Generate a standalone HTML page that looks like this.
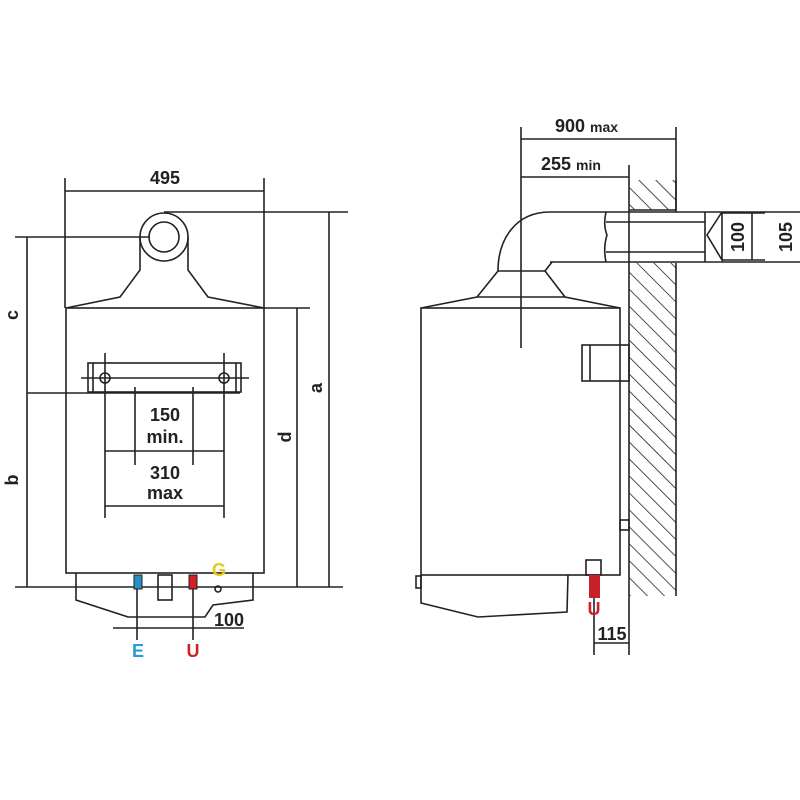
<!DOCTYPE html>
<html><head><style>
html,body{margin:0;padding:0;background:#fff;}
svg{display:block;}
text{font-family:"Liberation Sans",Arial,sans-serif;font-weight:bold;fill:#222;}
</style></head><body>
<svg width="800" height="800" viewBox="0 0 800 800" xmlns="http://www.w3.org/2000/svg">
<defs>
<pattern id="h" width="12" height="12" patternUnits="userSpaceOnUse" patternTransform="rotate(-45)">
<line x1="0" y1="0" x2="0" y2="12" stroke="#222" stroke-width="1.6"/>
</pattern>
</defs>
<g fill="none" stroke="#222" stroke-width="1.6">
<!-- LEFT VIEW -->
<line x1="65" y1="178" x2="65" y2="308"/>
<line x1="264" y1="178" x2="264" y2="308"/>
<line x1="65" y1="191" x2="264" y2="191"/>
<circle cx="164" cy="237" r="24"/>
<circle cx="164" cy="237" r="15"/>
<path d="M140 237 V270 L120 297 L66 308 M188 237 V270 L208 297 L264 308"/>
<line x1="164" y1="212" x2="348" y2="212"/>
<line x1="15" y1="237" x2="150" y2="237"/>
<rect x="66" y="308" width="198" height="265"/>
<line x1="264" y1="308" x2="310" y2="308"/>
<line x1="329" y1="212" x2="329" y2="587"/>
<line x1="297" y1="308" x2="297" y2="587"/>
<line x1="27" y1="237" x2="27" y2="587"/>
<line x1="27" y1="393" x2="240" y2="393"/>
<line x1="15" y1="587" x2="343" y2="587"/>
<rect x="88" y="363" width="153" height="29"/>
<line x1="93" y1="363" x2="93" y2="392"/>
<line x1="236" y1="363" x2="236" y2="392"/>
<circle cx="105" cy="378" r="5"/>
<circle cx="224" cy="378" r="5"/>
<line x1="81" y1="378" x2="249" y2="378"/>
<line x1="105" y1="353" x2="105" y2="518"/>
<line x1="224" y1="353" x2="224" y2="518"/>
<line x1="135" y1="387" x2="135" y2="465"/>
<line x1="193" y1="387" x2="193" y2="465"/>
<line x1="105" y1="451" x2="224" y2="451"/>
<line x1="105" y1="506" x2="224" y2="506"/>
<path d="M76 573 V600 L128 617 H205 L213 605 L253 600 V573"/>
<rect x="158" y="575" width="14" height="25"/>
<line x1="137" y1="589" x2="137" y2="640"/>
<line x1="193" y1="589" x2="193" y2="640"/>
<line x1="113" y1="628" x2="244" y2="628"/>
<circle cx="218" cy="589" r="3"/>
<!-- RIGHT VIEW -->
<line x1="521" y1="127" x2="521" y2="348"/>
<line x1="676" y1="127" x2="676" y2="212"/>
<line x1="521" y1="139" x2="676" y2="139"/>
<line x1="521" y1="177" x2="629" y2="177"/>
<line x1="629" y1="165" x2="629" y2="655"/>
<rect x="629" y="180" width="47" height="30" fill="url(#h)" stroke="none"/>
<rect x="629" y="263" width="47" height="333" fill="url(#h)" stroke="none"/>
<line x1="676" y1="180" x2="676" y2="210"/>
<line x1="629" y1="210" x2="676" y2="210"/>
<line x1="676" y1="263" x2="676" y2="596"/>
<line x1="550" y1="212" x2="800" y2="212"/>
<line x1="550" y1="262" x2="800" y2="262"/>
<path d="M498 271 C498 240 515 212 550 212"/>
<path d="M545 271 L552 262"/>
<path d="M606 212 Q603 225 607 235 Q603 248 606 262"/>
<line x1="606" y1="222" x2="705" y2="222"/>
<line x1="606" y1="252" x2="705" y2="252"/>
<line x1="705" y1="212" x2="705" y2="262"/>
<path d="M722 212 L707 235 L722 260 V212"/>
<line x1="722" y1="213" x2="765" y2="213"/>
<line x1="722" y1="260" x2="765" y2="260"/>
<line x1="752" y1="213" x2="752" y2="260"/>
<line x1="498" y1="271" x2="545" y2="271"/>
<path d="M498 271 L477 297 L421 308 M545 271 L565 297 L620 308"/>
<line x1="477" y1="297" x2="565" y2="297"/>
<rect x="421" y="308" width="199" height="267"/>
<rect x="582" y="345" width="47" height="36"/>
<line x1="590" y1="345" x2="590" y2="381"/>
<rect x="620" y="520" width="9" height="10"/>
<path d="M421 575 V603 L478 617 L567 612 L568 575"/>
<rect x="416" y="576" width="5" height="12"/>
<rect x="586" y="560" width="15" height="15"/>
<line x1="594" y1="598" x2="594" y2="655"/>
<line x1="594" y1="643" x2="629" y2="643"/>
</g>
<rect x="134" y="575" width="8" height="14" fill="#2a8fc8" stroke="#222" stroke-width="1"/>
<rect x="189" y="575" width="8" height="14" fill="#d0202a" stroke="#222" stroke-width="1"/>
<rect x="589" y="575" width="11" height="23" fill="#c8202a"/>
<g font-size="18">
<text x="165" y="184" text-anchor="middle">495</text>
<text x="165" y="421" text-anchor="middle">150</text>
<text x="165" y="443" text-anchor="middle">min.</text>
<text x="165" y="479" text-anchor="middle">310</text>
<text x="165" y="499" text-anchor="middle">max</text>
<text x="229" y="626" text-anchor="middle">100</text>
<text x="138" y="657" text-anchor="middle" style="fill:#2a9ad8">E</text>
<text x="193" y="657" text-anchor="middle" style="fill:#d0202a">U</text>
<text x="219" y="576" text-anchor="middle" style="fill:#e8c818">G</text>
<text x="594" y="615" text-anchor="middle" style="fill:#d0202a">U</text>
<text x="612" y="640" text-anchor="middle">115</text>
<text x="555" y="132">900 <tspan font-size="14">max</tspan></text>
<text x="541" y="170">255 <tspan font-size="14">min</tspan></text>
<text transform="translate(744,237) rotate(-90)" text-anchor="middle">100</text>
<text transform="translate(792,237) rotate(-90)" text-anchor="middle">105</text>
<text transform="translate(18,315) rotate(-90)" text-anchor="middle">c</text>
<text transform="translate(18,480) rotate(-90)" text-anchor="middle">b</text>
<text transform="translate(291,437) rotate(-90)" text-anchor="middle">d</text>
<text transform="translate(322,388) rotate(-90)" text-anchor="middle">a</text>
</g>
</svg>
</body></html>
